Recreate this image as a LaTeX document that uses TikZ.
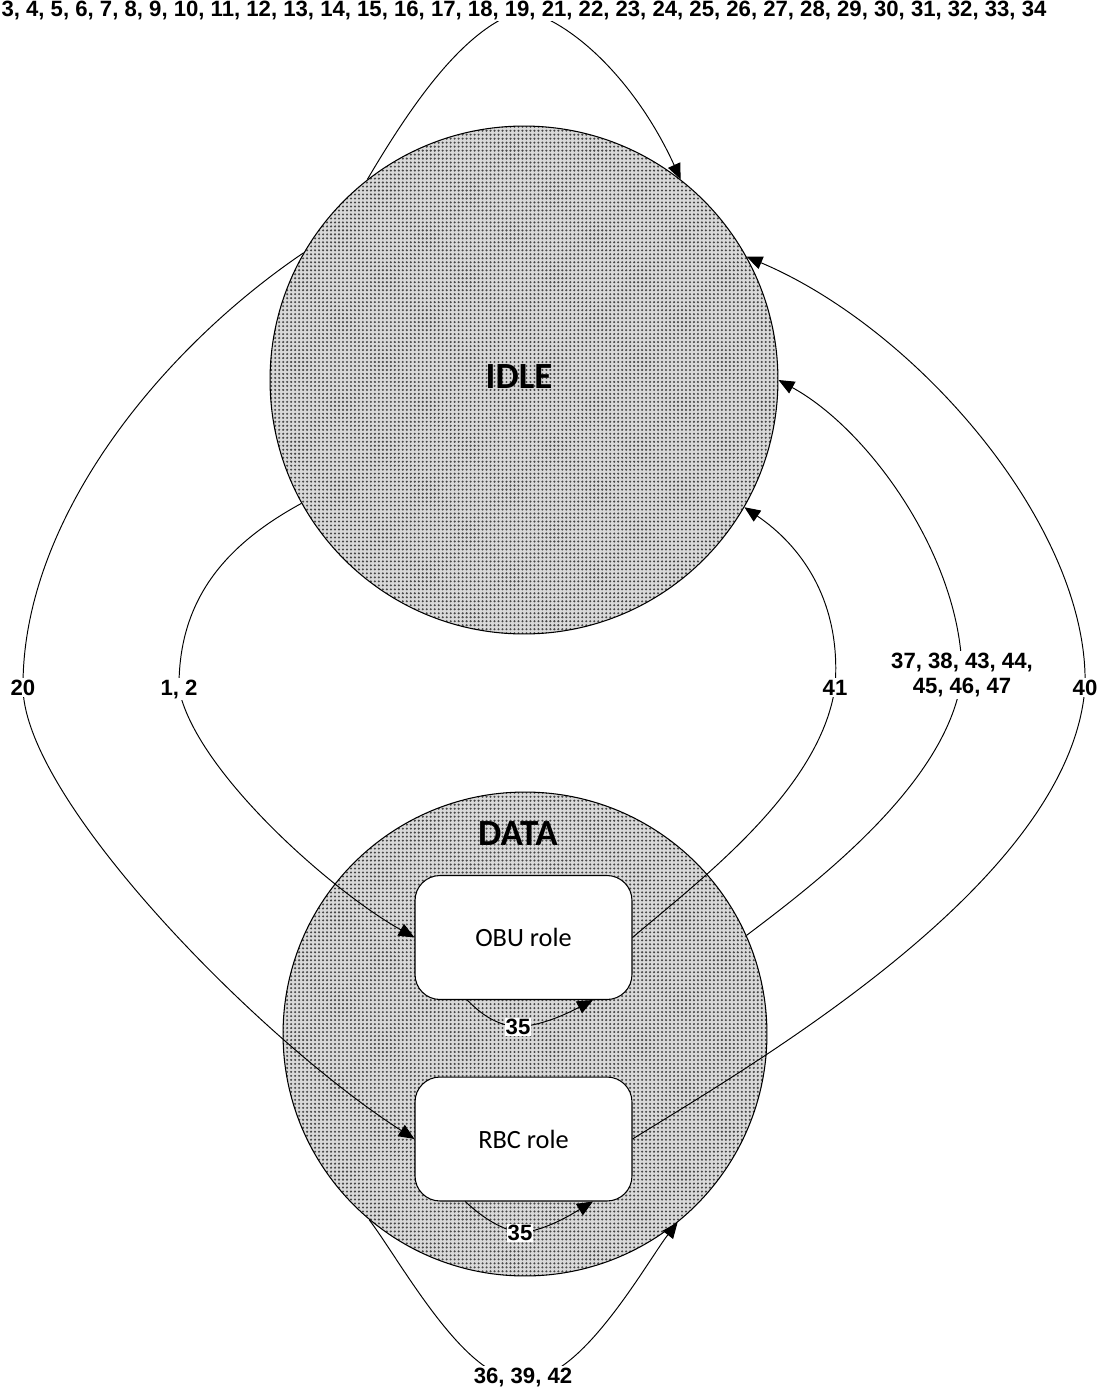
\documentclass[tikz,border=0pt]{standalone}
\usepackage{fontspec}
\setmainfont{Liberation Sans}
\newfontfamily\calib{Carlito}
\usetikzlibrary{arrows.meta,patterns}
\pgfdeclarepatternformonly{stipple}{\pgfqpoint{-1pt}{-1pt}}{\pgfqpoint{1.3pt}{1.3pt}}{\pgfqpoint{2.27pt}{2.27pt}}{%
  \pgfpathcircle{\pgfqpoint{0pt}{0pt}}{0.66pt}\pgfusepath{fill}}
\pgfdeclarelayer{background}
\pgfdeclarelayer{foreground}
\pgfsetlayers{background,main,foreground}
\tikzset{
 state/.style={circle, draw, line width=0.6pt, preaction={fill=black!15}, pattern=stipple, pattern color=black!72, inner sep=0pt},
 rolebox/.style={draw, fill=white, rounded corners=0.5cm, minimum width=4.34cm, minimum height=2.48cm, inner sep=0pt, font=\calib\fontsize{15}{18}\selectfont, line width=0.6pt},
 lbl/.style={fill=white, inner sep=1pt, font=\bfseries\fontsize{12.6}{14.6}\selectfont, align=center},
 conn/.style={line width=0.55pt},
 arr/.style={conn, -{Triangle[length=9pt,width=7.5pt]}},
 statetxt/.style={font=\calib\bfseries\fontsize{21}{24}\selectfont}
}
\begin{document}
\begin{tikzpicture}[x=0.02cm,y=-0.02cm]
\useasboundingbox (0,0) rectangle (1098,1387);
\begin{pgfonlayer}{background}
\fill[white] (0,0) rectangle (1098,1387);
\node[state, minimum size=10.16cm] (idle) at (524,380) {};
\node[state, minimum size=9.68cm] (data) at (525,1034) {};
\end{pgfonlayer}
\node[statetxt] (idletxt) at (519,377) {IDLE};
\node[statetxt] (datatxt) at (518,834) {DATA};
\node[rolebox] (obu) at (523.5,937.5) {OBU role};
\node[rolebox] (rbc) at (523.5,1139) {RBC role};
\begin{pgfonlayer}{foreground}
\node[lbl, anchor=base] (ltop) at (524,16) {3, 4, 5, 6, 7, 8, 9, 10, 11, 12, 13, 14, 15, 16, 17, 18, 19, 21, 22, 23, 24, 25, 26, 27, 28, 29, 30, 31, 32, 33, 34};
\node[lbl, anchor=base] (l20) at (23,695) {20};
\node[lbl, anchor=base] (l12) at (179,695) {1, 2};
\node[lbl, anchor=base] (l41) at (835,695) {41};
\node[lbl] (l37) at (962,675) {37, 38, 43, 44,\\45, 46, 47};
\node[lbl, anchor=base] (l40) at (1085,695) {40};
\node[lbl, anchor=base] (l36) at (523,1383) {36, 39, 42};
\node[lbl, inner sep=0.5pt] (l35a) at (518,1027) {35};
\node[lbl, inner sep=0.5pt] (l35b) at (520,1233) {35};
\end{pgfonlayer}
% connectors
\draw[conn] (idle.128) .. controls (420,90) and (470,25) .. (ltop.center);
\draw[arr] (ltop.center) .. controls (580,25) and (640,90) .. (idle.52);
\draw[conn] (idle.150) .. controls (160,350) and (22,520) .. (l20.center);
\draw[arr] (l20.center) .. controls (24,800) and (260,1040) .. (rbc.west);
\draw[conn] (idle.209) .. controls (225,545) and (178,600) .. (l12.center);
\draw[arr] (l12.center) .. controls (195,770) and (330,890) .. (obu.west);
\draw[conn] (obu.east) .. controls (700,880) and (820,790) .. (l41.center);
\draw[arr] (l41.center) .. controls (842,600) and (800,545) .. (idle.330);
\draw[conn] (data.24) .. controls (820,880) and (950,780) .. (l37.center);
\draw[arr] (l37.center) .. controls (962,560) and (870,430) .. (idle.0);
\draw[conn] (rbc.east) .. controls (760,1060) and (1070,880) .. (l40.center);
\draw[arr] (l40.center) .. controls (1090,530) and (920,330) .. (idle.29);
\draw[conn] (data.230) .. controls (400,1260) and (470,1390) .. (l36.center);
\draw[arr] (l36.center) .. controls (576,1390) and (648,1260) .. (data.309);
\draw[conn] (obu.228) .. controls (480,1013) and (495,1025) .. (l35a.center);
\draw[arr] (l35a.center) .. controls (545,1025) and (570,1012) .. (obu.318);
\draw[conn] (rbc.227) .. controls (480,1215) and (497,1228) .. (l35b.center);
\draw[arr] (l35b.center) .. controls (547,1230) and (572,1214) .. (rbc.318);
\end{tikzpicture}
\end{document}
